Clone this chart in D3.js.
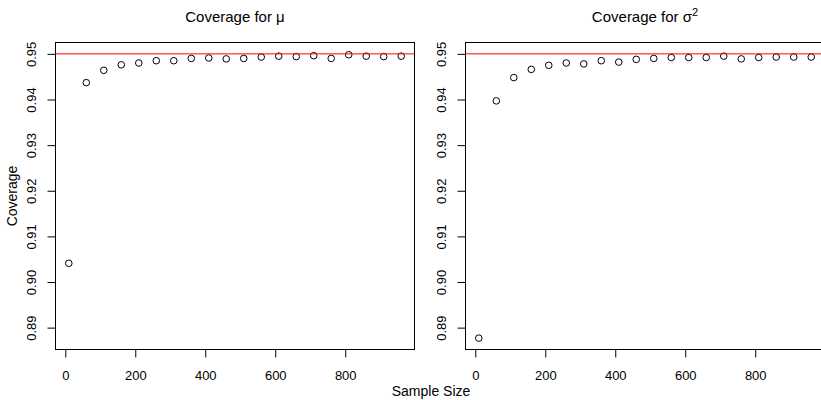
<!DOCTYPE html>
<html>
<head>
<meta charset="utf-8">
<script src="https://cdn.jsdelivr.net/npm/d3@7"></script>
<style>
  body { margin: 0; background: #fff; }
  text { font-family: "Liberation Sans", Arial, sans-serif; fill: #000; }
</style>
</head>
<body>
<script>
let sampleSizes = [10, 60, 110, 160, 210, 260, 310, 360, 410, 460, 510, 560, 610, 660, 710, 760, 810, 860, 910, 960];
let coverageMu = [0.9041, 0.9437, 0.9464, 0.9476, 0.9480, 0.9485, 0.9485, 0.9490, 0.9491, 0.9489, 0.9490, 0.9493, 0.9495, 0.9494, 0.9496, 0.9490, 0.9498, 0.9495, 0.9494, 0.9495];
let coverageSigma2 = [0.8877, 0.9397, 0.9448, 0.9466, 0.9475, 0.9480, 0.9478, 0.9485, 0.9482, 0.9488, 0.9490, 0.9492, 0.9492, 0.9492, 0.9495, 0.9489, 0.9492, 0.9493, 0.9493, 0.9493];
let xTicks = [0, 200, 400, 600, 800];
let yTicks = [0.89, 0.90, 0.91, 0.92, 0.93, 0.94, 0.95];
let nominal = 0.95;

let svgWidth = 821;
let svgHeight = 400;

let svg = d3.select("body")
    .append("svg")
    .attr("width", svgWidth)
    .attr("height", svgHeight)

let plotWidth = 359;
let plotHeight = 307;
let plotTop = 42.5;

// R style: data range padded by 4% on each side
function pad(ext) {
    let d = (ext[1] - ext[0]) * 0.04;
    return [ext[0] - d, ext[1] + d];
}

let x = d3.scaleLinear()
    .domain(pad(d3.extent(sampleSizes)))
    .range([0, plotWidth]);

let y = d3.scaleLinear()
    .domain(pad(d3.extent(coverageMu.concat(coverageSigma2, [nominal]))))
    .range([plotHeight, 0]);

function drawPanel(left, values, title) {
    let g = svg.append("g")
        .attr("transform", `translate(${left},${plotTop})`)

    // x axis
    let xa = g.append("g")
        .attr("transform", `translate(0,${plotHeight})`)
        .call(d3.axisBottom(x).tickValues(xTicks).tickSize(8).tickFormat(d3.format("d")))
    xa.select(".domain").remove();
    xa.selectAll("line").attr("stroke", "#000");
    xa.selectAll("text")
        .attr("y", 30.5)
        .attr("dy", null)
        .attr("font-size", 13)
        .attr("font-family", null);

    // y axis
    let ya = g.append("g")
        .call(d3.axisLeft(y).tickValues(yTicks).tickSize(8).tickFormat(d3.format(".2f")))
    ya.select(".domain").remove();
    ya.selectAll("line").attr("stroke", "#000");
    ya.selectAll("text")
        .attr("x", null)
        .attr("dy", null)
        .attr("text-anchor", "middle")
        .attr("transform", "translate(-20,0) rotate(-90)")
        .attr("font-size", 13)
        .attr("font-family", null);

    g.selectAll("circle")
        .data(values)
        .enter()
        .append("circle")
        .attr("cx", (d, i) => x(sampleSizes[i]))
        .attr("cy", d => y(d))
        .attr("r", 3.3)
        .attr("fill", "none")
        .attr("stroke", "#000")
        .attr("stroke-width", 1);

    g.append("line")
        .attr("x1", 0)
        .attr("x2", plotWidth)
        .attr("y1", y(nominal))
        .attr("y2", y(nominal))
        .attr("stroke", "red")
        .attr("stroke-width", 1);

    g.append("rect")
        .attr("width", plotWidth)
        .attr("height", plotHeight)
        .attr("fill", "none")
        .attr("stroke", "#000")
        .attr("stroke-width", 1);

    let t = g.append("text")
        .attr("x", plotWidth / 2)
        .attr("y", 22 - plotTop)
        .attr("text-anchor", "middle")
        .attr("font-size", 15)
        .text(title[0]);
    if (title[1]) {
        t.append("tspan")
            .attr("dy", -6)
            .attr("font-size", 11)
            .text(title[1]);
    }
    return g;
}

drawPanel(55.5, coverageMu, ["Coverage for μ"]);
drawPanel(465.5, coverageSigma2, ["Coverage for σ", "2"]);

svg.append("text")
    .attr("transform", `translate(17,${plotTop + plotHeight / 2}) rotate(-90)`)
    .attr("text-anchor", "middle")
    .attr("font-size", 14)
    .text("Coverage");

svg.append("text")
    .attr("x", 431)
    .attr("y", 396)
    .attr("text-anchor", "middle")
    .attr("font-size", 14)
    .text("Sample Size");
</script>
</body>
</html>
